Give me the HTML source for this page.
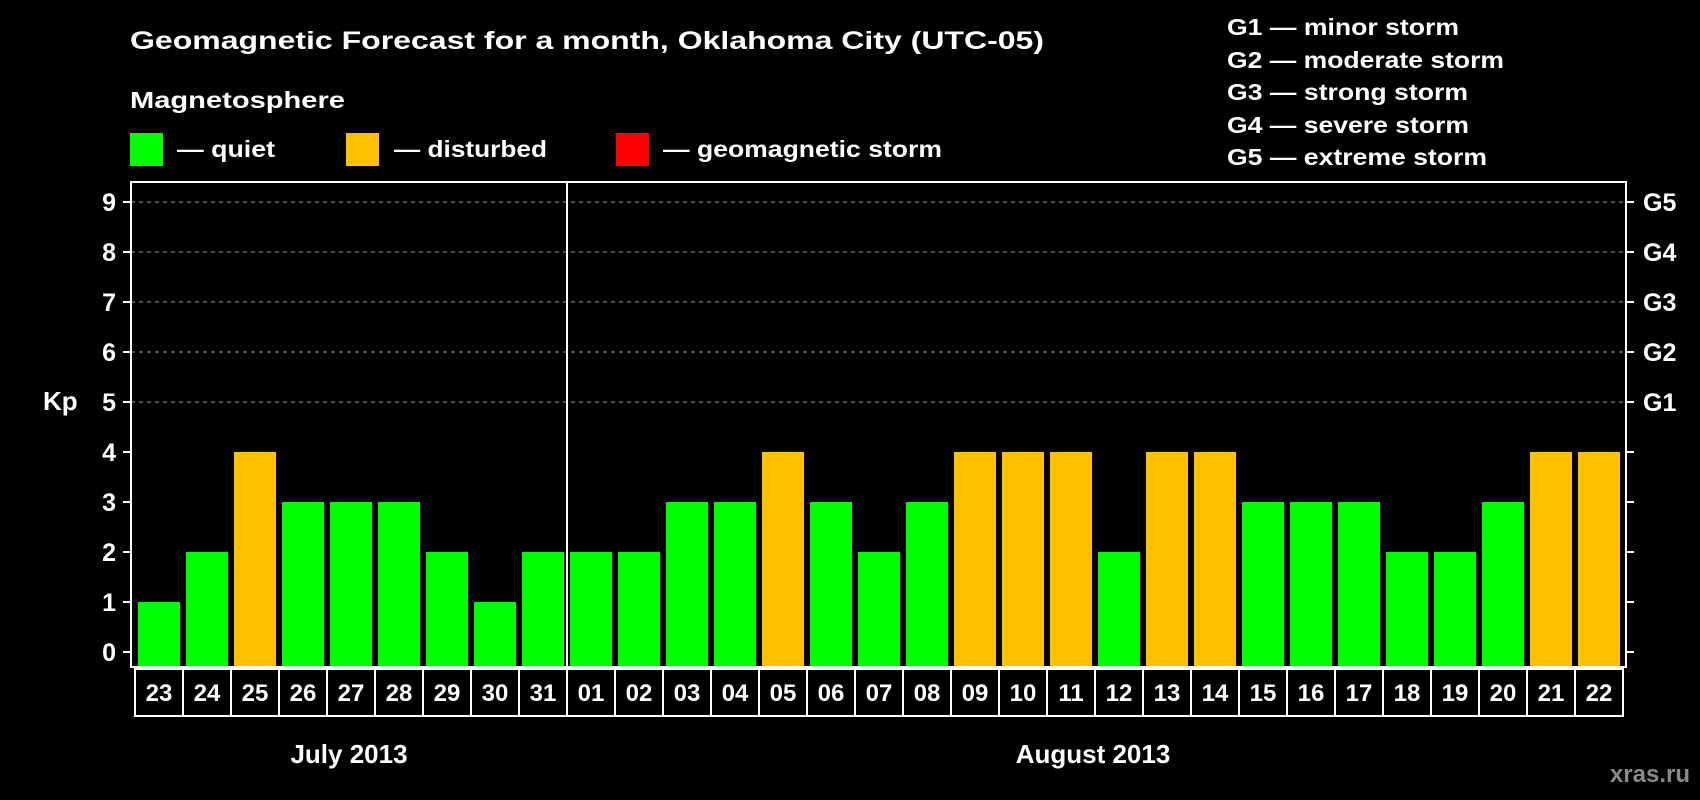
<!DOCTYPE html>
<html><head><meta charset="utf-8"><style>
html,body{margin:0;padding:0;background:#000;}
svg{display:block;font-family:"Liberation Sans",Arial,sans-serif;font-weight:bold;}
</style></head><body>
<svg id="c" width="1700" height="800" viewBox="0 0 1700 800">
<text x="130" y="49" font-size="25" fill="#fff" textLength="914" lengthAdjust="spacingAndGlyphs">Geomagnetic Forecast for a month, Oklahoma City (UTC-05)</text>
<text x="130" y="108" font-size="23" fill="#fff" textLength="215" lengthAdjust="spacingAndGlyphs">Magnetosphere</text>
<g><rect x="130" y="133" width="33" height="33" fill="#00ff00"/><text x="177" y="157" font-size="23" fill="#fff" textLength="98" lengthAdjust="spacingAndGlyphs">— quiet</text></g>
<g><rect x="346" y="133" width="33" height="33" fill="#ffc000"/><text x="394" y="157" font-size="23" fill="#fff" textLength="153" lengthAdjust="spacingAndGlyphs">— disturbed</text></g>
<g><rect x="616" y="133" width="33" height="33" fill="#ff0000"/><text x="663" y="157" font-size="23" fill="#fff" textLength="279" lengthAdjust="spacingAndGlyphs">— geomagnetic storm</text></g>
<g font-size="23" fill="#fff">
<text x="1227" y="35" textLength="232" lengthAdjust="spacingAndGlyphs">G1 — minor storm</text>
<text x="1227" y="68" textLength="277" lengthAdjust="spacingAndGlyphs">G2 — moderate storm</text>
<text x="1227" y="100" textLength="241" lengthAdjust="spacingAndGlyphs">G3 — strong storm</text>
<text x="1227" y="133" textLength="242" lengthAdjust="spacingAndGlyphs">G4 — severe storm</text>
<text x="1227" y="165" textLength="260" lengthAdjust="spacingAndGlyphs">G5 — extreme storm</text>
</g>
<text x="43" y="410" font-size="26" fill="#fff">Kp</text>
<text x="349" y="763" font-size="26" fill="#fff" text-anchor="middle">July 2013</text>
<text x="1093" y="763" font-size="26" fill="#fff" text-anchor="middle">August 2013</text>
<text x="1690" y="782" font-size="24" fill="#8a8a8a" text-anchor="end">xras.ru</text>
<g id="plot"></g>
</svg>
<script>
const days = ["23","24","25","26","27","28","29","30","31","01","02","03","04","05","06","07","08","09","10","11","12","13","14","15","16","17","18","19","20","21","22"];
const kp = [1,2,4,3,3,3,2,1,2,2,2,3,3,4,3,2,3,4,4,4,2,4,4,3,3,3,2,2,3,4,4];
const yTicks = [0,1,2,3,4,5,6,7,8,9];
const gLabels = ["G1","G2","G3","G4","G5"];
const gLevels = [5,6,7,8,9];
const monthSplit = 9;

const NS="http://www.w3.org/2000/svg";
const plot=document.getElementById('plot');
const L=131,R=1626,T=182,B=667,Y0=652,UNIT=50,X0=138,PITCH=48,BW=42;
const y=v=>Y0-v*UNIT;
const x=i=>X0+i*PITCH;
function mk(tag,attrs){const e=document.createElementNS(NS,tag);for(const k in attrs)e.setAttribute(k,attrs[k]);plot.appendChild(e);return e;}

gLevels.forEach((g,i)=>{
  const l=mk('line',{x1:L,x2:R,y1:y(g),y2:y(g),stroke:'#999','stroke-width':1,'stroke-dasharray':'4,4'});
  
  
  const t=mk('text',{x:R+17,y:y(g)+9,'font-size':25,fill:'#fff'});
  t.textContent=gLabels[i];
  
  
});
kp.forEach((v,i)=>{
  const col=v>=5?'#ff0000':(v>=4?'#ffc000':'#00ff00');
  const r=mk('rect',{x:x(i),y:y(v),width:BW,height:B-y(v),fill:col});
  
  
  const b=mk('rect',{x:x(i)-3,y:B+2,width:PITCH,height:47,fill:'none',stroke:'#fff','stroke-width':2});
  
  
  const t=mk('text',{x:x(i)+BW/2,y:B+34,'font-size':24,fill:'#fff','text-anchor':'middle'});
  t.textContent=days[i];
  
  
});
yTicks.forEach(v=>{
  const t=mk('text',{x:116,y:y(v)+9,'font-size':25,fill:'#fff','text-anchor':'end'});
  t.textContent=v;
  
  
  const a=mk('line',{x1:L-8,x2:L,y1:y(v),y2:y(v),stroke:'#fff','stroke-width':2});
  
  
  const c=mk('line',{x1:R,x2:R+8,y1:y(v),y2:y(v),stroke:'#fff','stroke-width':2});
  
  
});
const sx=x(monthSplit)-3;
const sep=mk('line',{x1:sx,x2:sx,y1:T,y2:B,stroke:'#fff','stroke-width':2});


const fr=mk('rect',{x:L,y:T,width:R-L,height:B-T,fill:'none',stroke:'#fff','stroke-width':2});


</script>
</body></html>
